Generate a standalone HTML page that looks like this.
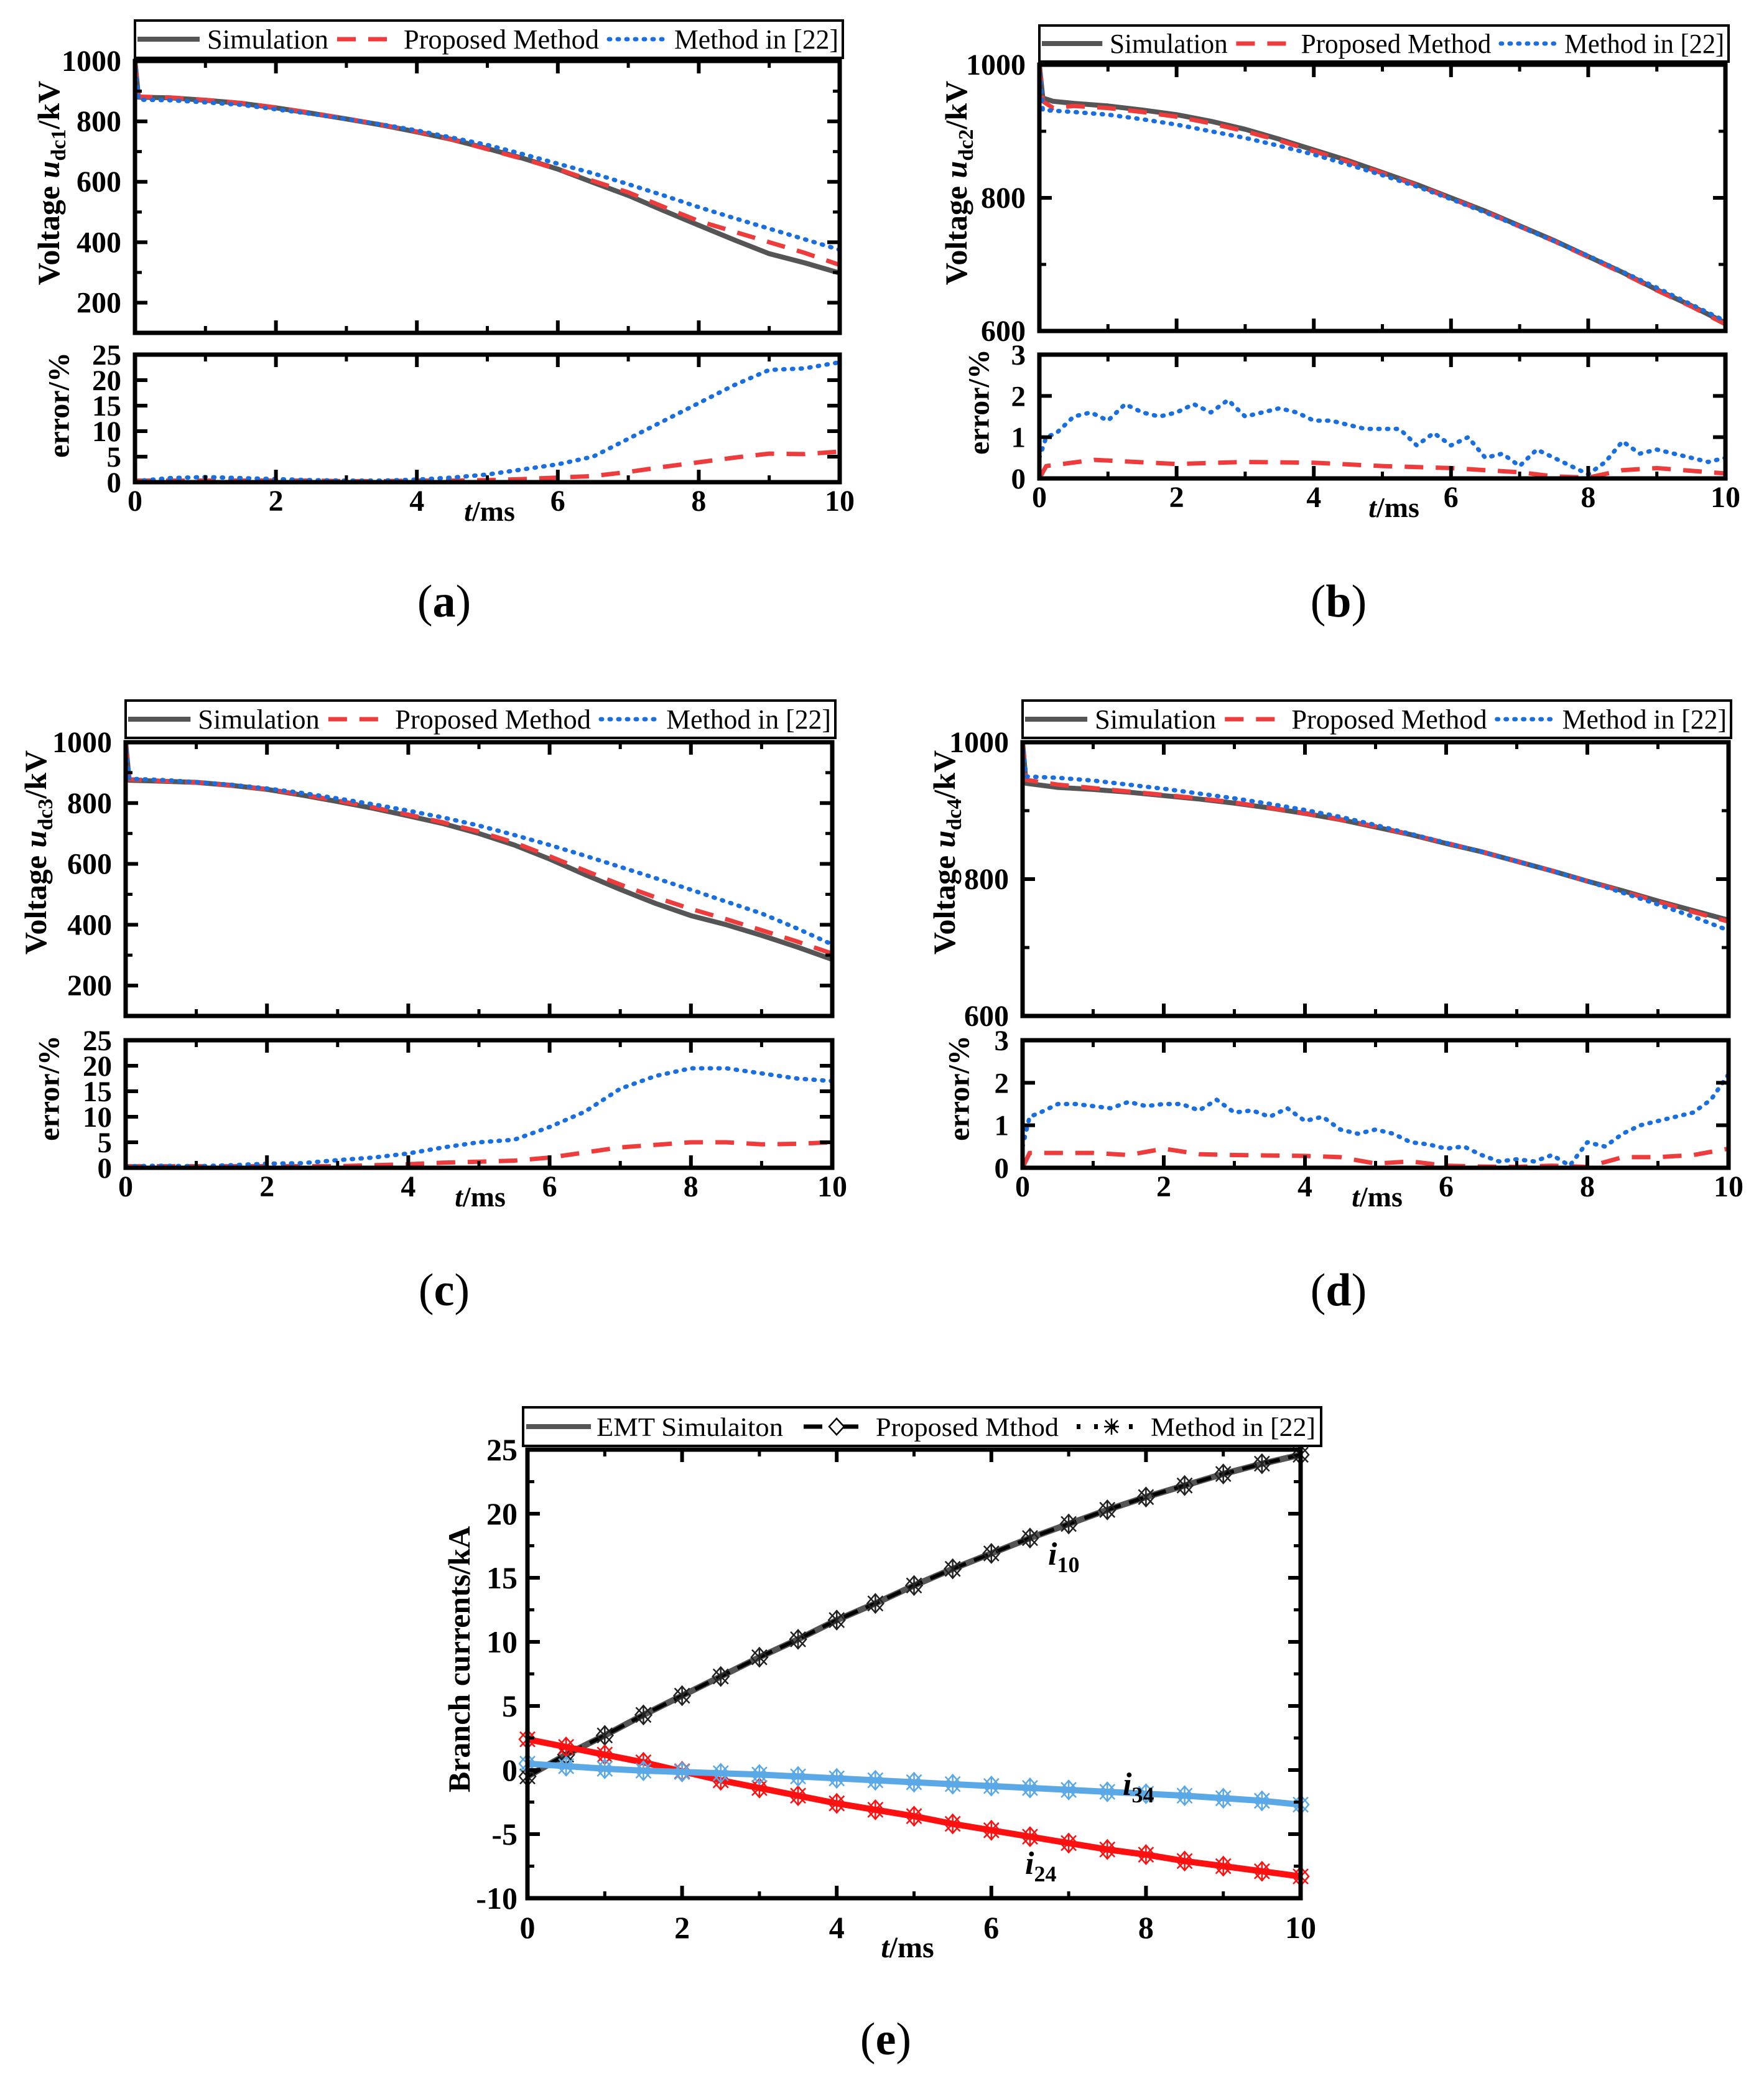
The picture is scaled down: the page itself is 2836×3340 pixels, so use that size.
<!DOCTYPE html>
<html><head><meta charset="utf-8"><style>
html,body{margin:0;padding:0;background:#fff;}
svg{display:block;}
text{font-family:"Liberation Serif",serif;}
</style></head><body>
<svg id="fig" xmlns="http://www.w3.org/2000/svg" width="2836" height="3340" viewBox="0 0 2836 3340"></svg>
<script>
// ---------- DATA ----------
const tA = [0,0.05,0.5,1,1.5,2,2.5,3,3.5,4,4.5,5,5.5,6,6.5,7,7.5,8,8.5,9,9.5,10];
const tE = [0,0.5,1,1.5,2,2.5,3,3.5,4,4.5,5,5.5,6,6.5,7,7.5,8,8.5,9,9.5,10];
const tB = [0,0.05,0.2,0.5,1,1.5,2,2.5,3,3.5,4,4.5,5,5.5,6,6.5,7,7.5,8,8.5,9,9.5,10];
const tQ = [0,0.1,0.25,0.5,0.75,1,1.25,1.5,1.75,2,2.25,2.5,2.75,3,3.25,3.5,3.75,4,4.25,4.5,4.75,5,5.25,5.5,5.75,6,6.25,6.5,6.75,7,7.25,7.5,7.75,8,8.25,8.5,8.75,9,9.25,9.5,9.75,10];
const tBr = [0,0.1,0.8,2,3,4,5,6,7,7.5,8,8.5,9,10];
const tDr = [0,0.1,1,1.5,2,2.5,3,4,4.5,5,5.5,6,6.5,7,7.5,8,8.5,9,9.5,10];
const xTicks = [0,2,4,6,8,10];
const xMinor = [1,3,5,7,9];

const aSim = [1000,880,878,870,860,845,827,808,788,765,740,710,678,642,598,555,505,456,408,362,332,298];
const aProp = [1000,882,879,871,861,846,828,809,789,766,740,708,676,642,603,565,517,470,435,400,365,325];
const aM22 = [1000,872,870,863,855,840,825,808,790,770,746,722,692,660,628,592,555,516,480,445,410,375];
const aErrP = [0.3,0.3,0.3,0.3,0.3,0.3,0.2,0.2,0.3,0.3,0.4,0.6,0.9,1.2,2.0,3.0,3.9,4.8,5.6,5.5,6.0];
const aErrM = [0.2,0.8,1.0,0.8,0.6,0.4,0.3,0.3,0.5,0.9,1.5,2.5,3.5,5.0,8.5,12,15.5,19,22,22.3,23.5];

const bSim = [1000,950,945,942,938,932,925,915,903,888,872,856,838,820,800,780,758,736,712,688,662,638,612];
const bProp = [1000,945,935,938,935,929,922,912,900,886,870,854,837,819,799,779,757,735,711,687,661,637,610];
const bM22 = [1000,932,931,929,925,918,910,900,890,878,865,850,834,817,798,778,757,735,713,689,665,640,615];
const bErrP = [0,0.3,0.45,0.35,0.4,0.38,0.3,0.25,0.15,0.05,0.02,0.2,0.25,0.12];
const bErrM = [0.5,1.0,1.1,1.5,1.6,1.4,1.8,1.6,1.5,1.6,1.8,1.6,1.9,1.5,1.6,1.7,1.6,1.4,1.4,1.3,1.2,1.2,1.2,0.8,1.1,0.8,1.0,0.5,0.6,0.3,0.7,0.5,0.3,0.1,0.4,0.9,0.6,0.7,0.6,0.5,0.4,0.5];

const cSim = [1000,875,872,868,858,845,826,805,783,758,732,700,662,616,565,516,470,430,400,365,327,286];
const cProp = [1000,878,873,868,858,846,828,808,786,762,736,706,670,625,578,532,490,452,418,382,345,305];
const cM22 = [1000,880,876,869,860,848,833,815,796,775,752,726,695,662,627,590,553,515,476,437,388,335];
const cErrP = [0.3,0.3,0.3,0.3,0.3,0.3,0.3,0.5,0.7,1.0,1.2,1.4,2.0,3.0,4.0,4.5,5.0,5.0,4.6,4.7,5.0];
const cErrM = [0.3,0.4,0.3,0.5,0.8,0.9,1.5,2.0,2.8,4.0,5.0,5.5,8.0,11,15.5,18,19.5,19.5,18.5,17.5,17];

const dSim = [1000,940,934,931,927,922,917,911,904,896,887,876,865,852,840,826,812,797,783,768,754,740];
const dProp = [1000,945,938,933,928,923,918,912,904,896,887,877,865,853,840,826,812,797,782,767,752,738];
const dM22 = [1000,950,948,944,938,932,925,918,910,901,891,879,866,853,840,826,812,797,780,763,745,725];
const dErrP = [0,0.35,0.35,0.3,0.45,0.32,0.3,0.28,0.25,0.1,0.15,0.05,0.03,0.02,0.05,0.02,0.25,0.25,0.3,0.45];
const dErrM = [0.5,1.2,1.3,1.5,1.5,1.45,1.4,1.55,1.45,1.5,1.5,1.35,1.6,1.3,1.35,1.2,1.4,1.1,1.2,0.9,0.8,0.9,0.8,0.6,0.55,0.45,0.5,0.3,0.15,0.2,0.15,0.3,0.05,0.6,0.5,0.8,1.0,1.1,1.2,1.3,1.6,2.2];

const i10 = [-0.5,1.2,2.7,4.3,5.8,7.3,8.8,10.2,11.7,13.0,14.4,15.7,16.9,18.1,19.2,20.3,21.3,22.2,23.1,23.9,24.6];
const i24 = [2.4,1.8,1.2,0.6,-0.1,-0.8,-1.4,-2.0,-2.6,-3.1,-3.6,-4.2,-4.7,-5.2,-5.7,-6.2,-6.6,-7.1,-7.5,-7.9,-8.3];
const i34 = [0.5,0.3,0.1,-0.05,-0.15,-0.25,-0.35,-0.5,-0.65,-0.8,-0.95,-1.1,-1.25,-1.4,-1.55,-1.7,-1.85,-2.0,-2.2,-2.4,-2.7];
const eYTicks = [-10,-5,0,5,10,15,20,25];

// ---------- HELPERS ----------
const NS = 'http://www.w3.org/2000/svg';
const svg = document.getElementById('fig');
function mk(tag, attrs, parent){ const e=document.createElementNS(NS,tag); for(const k in attrs) e.setAttribute(k,attrs[k]); (parent||svg).appendChild(e); return e; }
function lin(d0,d1,r0,r1){ return v => r0 + (v-d0)/(d1-d0)*(r1-r0); }
function pathD(xs, ys, sx, sy){ return xs.map((t,i)=>(i?'L':'M')+sx(t).toFixed(1)+','+sy(ys[i]).toFixed(1)).join(''); }

const SIMC='#555555', REDC='#ee3b3b', BLUEC='#1a6fe0';
function series(g, xs, ys, sx, sy, kind, name){
  let a = {fill:'none','stroke-linejoin':'round'};
  if(kind==='sim'){ a.stroke=SIMC; a['stroke-width']=8; }
  else if(kind==='prop'){ a.stroke=REDC; a['stroke-width']=7; a['stroke-dasharray']='30 20'; }
  else { a.stroke=BLUEC; a['stroke-width']=7; a['stroke-dasharray']='2 12'; a['stroke-linecap']='round'; }
  a.d = pathD(xs, ys, sx, sy);
  const p = mk('path', a, g);
  
  
}

function frame(g, x0, y0, x1, y1, yT, yM, sy, xs, name){
  const fr = mk('rect',{x:x0,y:y0,width:x1-x0,height:y1-y0,fill:'none',stroke:'#000','stroke-width':7},g);
  
  
  xTicks.forEach(v=>{ mk('line',{x1:xs(v),x2:xs(v),y1:y1,y2:y1-20,stroke:'#000','stroke-width':6},g); mk('line',{x1:xs(v),x2:xs(v),y1:y0,y2:y0+20,stroke:'#000','stroke-width':6},g); });
  xMinor.forEach(v=>{ mk('line',{x1:xs(v),x2:xs(v),y1:y1,y2:y1-11,stroke:'#000','stroke-width':5},g); mk('line',{x1:xs(v),x2:xs(v),y1:y0,y2:y0+11,stroke:'#000','stroke-width':5},g); });
  yT.forEach(v=>{ mk('line',{x1:x0,x2:x0+20,y1:sy(v),y2:sy(v),stroke:'#000','stroke-width':6},g); mk('line',{x1:x1,x2:x1-20,y1:sy(v),y2:sy(v),stroke:'#000','stroke-width':6},g); });
  yM.forEach(v=>{ mk('line',{x1:x0,x2:x0+11,y1:sy(v),y2:sy(v),stroke:'#000','stroke-width':5},g); mk('line',{x1:x1,x2:x1-11,y1:sy(v),y2:sy(v),stroke:'#000','stroke-width':5},g); });
}

function legend(g, L, T, R, B, id){
  const box = mk('rect',{x:L,y:T,width:R-L,height:B-T,fill:'#fff',stroke:'#000','stroke-width':4},g);
  
  
  const W = R-L, s = W/1138, cy=(T+B)/2, by=cy+15;
  mk('line',{x1:L+4,x2:L+104*s,y1:cy,y2:cy,stroke:SIMC,'stroke-width':8},g);
  const t1 = mk('text',{x:L+116*s,y:by,'font-size':44,textLength:195*s,lengthAdjust:'spacingAndGlyphs'},g); t1.textContent='Simulation';
  
  
  mk('line',{x1:L+325*s,x2:L+420*s,y1:cy,y2:cy,stroke:REDC,'stroke-width':7,'stroke-dasharray':'30 20'},g);
  const t2 = mk('text',{x:L+432*s,y:by,'font-size':44,textLength:314*s,lengthAdjust:'spacingAndGlyphs'},g); t2.textContent='Proposed Method';
  
  
  mk('line',{x1:L+762*s,x2:L+850*s,y1:cy,y2:cy,stroke:BLUEC,'stroke-width':7,'stroke-dasharray':'2 12','stroke-linecap':'round'},g);
  const t3 = mk('text',{x:L+867*s,y:by,'font-size':44,textLength:264*s,lengthAdjust:'spacingAndGlyphs'},g); t3.textContent='Method in [22]';
  
  
}

function ylabel(g, cx, cy, parts, size, name){
  const t = mk('text',{x:0,y:0,transform:`translate(${cx+size*0.36},${cy}) rotate(-90)`,'text-anchor':'middle','font-size':size,'font-weight':'bold'},g);
  
  
  parts.forEach(p=>{ const sp=mk('tspan',p.a||{},t); sp.textContent=p.s; });
}

function panel(cfg){
  const g = mk('g',{});
  
  
  const xs = lin(0,10,cfg.x0,cfg.x1);
  const sy = lin(cfg.ymin,cfg.ymax,cfg.t1,cfg.t0);
  const se = lin(0,cfg.emax,cfg.e1,cfg.e0);
  const clipId='clip'+cfg.id;
  const cp = mk('clipPath',{id:clipId},g); mk('rect',{x:cfg.x0,y:cfg.t0-5,width:cfg.x1-cfg.x0+4,height:cfg.t1-cfg.t0+5},cp);
  const gs = mk('g',{'clip-path':`url(#${clipId})`},g);
  series(gs, cfg.tt, cfg.sim, xs, sy, 'sim', 'simulation-line-'+cfg.id);
  series(gs, cfg.tt, cfg.prop, xs, sy, 'prop', 'proposed-line-'+cfg.id);
  series(gs, cfg.tt, cfg.m22, xs, sy, 'm22', 'method22-line-'+cfg.id);
  frame(g, cfg.x0, cfg.t0, cfg.x1, cfg.t1, cfg.yTicks, cfg.yMinor, sy, xs, 'voltage-plot-frame-'+cfg.id);
  cfg.yTicks.forEach(v=>{ const t=mk('text',{x:cfg.x0-22,y:sy(v)+16,'text-anchor':'end','font-size':48,'font-weight':'bold'},g); t.textContent=v;
    
     });
  const clipE='clipe'+cfg.id;
  const cpe = mk('clipPath',{id:clipE},g); mk('rect',{x:cfg.x0,y:cfg.e0,width:cfg.x1-cfg.x0+6,height:cfg.e1-cfg.e0},cpe);
  const ge = mk('g',{'clip-path':`url(#${clipE})`},g);
  series(ge, cfg.tep, cfg.errP, xs, se, 'prop', 'error-proposed-'+cfg.id);
  series(ge, cfg.tem, cfg.errM, xs, se, 'm22', 'error-method22-'+cfg.id);
  frame(g, cfg.x0, cfg.e0, cfg.x1, cfg.e1, cfg.eTicks, [], se, xs, 'error-plot-frame-'+cfg.id);
  cfg.eTicks.forEach(v=>{ const t=mk('text',{x:cfg.x0-22,y:se(v)+16,'text-anchor':'end','font-size':47,'font-weight':'bold'},g); t.textContent=v;
    
     });
  xTicks.forEach(v=>{ const t=mk('text',{x:xs(v),y:cfg.e1+46,'text-anchor':'middle','font-size':48,'font-weight':'bold'},g); t.textContent=v;
    
     });
  const tm = mk('text',{x:cfg.x0+570,y:cfg.e1+62,'text-anchor':'middle','font-size':46,'font-weight':'bold'},g);
  
  
  const ti=mk('tspan',{'font-style':'italic'},tm); ti.textContent='t'; const tr=mk('tspan',{},tm); tr.textContent='/ms';
  legend(g, cfg.leg[0], cfg.leg[1], cfg.leg[2], cfg.leg[3], cfg.id);
  ylabel(g, cfg.yl[0], cfg.yl[1], [{s:'Voltage '},{s:'u',a:{'font-style':'italic'}},{s:cfg.sub,a:{'font-size':34,dy:10}},{s:'/kV',a:{dy:-10}}], 50, 'y-axis-title-'+cfg.id);
  ylabel(g, cfg.el[0], cfg.el[1], [{s:'error/%'}], 48, 'error-axis-title-'+cfg.id);
  const pl = mk('text',{x:cfg.pl[0],y:cfg.pl[1]+6,'text-anchor':'middle','font-size':74,'font-family':'"DejaVu Serif",serif'},g);
  
  
  const p1=mk('tspan',{},pl); p1.textContent='(';
  const p2=mk('tspan',{'font-weight':'bold'},pl); p2.textContent=cfg.id;
  const p3=mk('tspan',{},pl); p3.textContent=')';
}

panel({id:'a',x0:217,x1:1350,t0:98,t1:535,ymin:100,ymax:1000,yTicks:[200,400,600,800,1000],yMinor:[100,300,500,700,900],
  e0:570,e1:775,emax:25,eTicks:[0,5,10,15,20,25],tt:tA,sim:aSim,prop:aProp,m22:aM22,tep:tE,errP:aErrP,tem:tE,errM:aErrM,
  leg:[217,33,1355,93],sub:'dc1',yl:[77,294],el:[93,651],pl:[714,985]});
panel({id:'b',x0:1671,x1:2774,t0:104,t1:532,ymin:600,ymax:1000,yTicks:[600,800,1000],yMinor:[700,900],
  e0:570,e1:769,emax:3,eTicks:[0,1,2,3],tt:tB,sim:bSim,prop:bProp,m22:bM22,tep:tBr,errP:bErrP,tem:tQ,errM:bErrM,
  leg:[1671,41,2779,99],sub:'dc2',yl:[1536,294],el:[1572,646],pl:[2152,985]});
panel({id:'c',x0:202,x1:1338,t0:1193,t1:1633,ymin:100,ymax:1000,yTicks:[200,400,600,800,1000],yMinor:[100,300,500,700,900],
  e0:1672,e1:1877,emax:25,eTicks:[0,5,10,15,20,25],tt:tA,sim:cSim,prop:cProp,m22:cM22,tep:tE,errP:cErrP,tem:tE,errM:cErrM,
  leg:[202,1126,1343,1186],sub:'dc3',yl:[56,1370],el:[77,1749],pl:[714,2092]});
panel({id:'d',x0:1644,x1:2779,t0:1193,t1:1633,ymin:600,ymax:1000,yTicks:[600,800,1000],yMinor:[700,900],
  e0:1672,e1:1877,emax:3,eTicks:[0,1,2,3],tt:tA,sim:dSim,prop:dProp,m22:dM22,tep:tDr,errP:dErrP,tem:tQ,errM:dErrM,
  leg:[1644,1126,2783,1186],sub:'dc4',yl:[1517,1370],el:[1540,1749],pl:[2152,2092]});

// ---------- PANEL E ----------
(function(){
  const g = mk('g',{});
  
  
  const X0=848,X1=2091,Y0=2330,Y1=3051;
  const xs = lin(0,10,X0,X1), sy = lin(-10,25,Y1,Y0);
  function marker(cx,cy,col){
    mk('path',{d:`M${cx},${cy-15}L${cx+13},${cy}L${cx},${cy+15}L${cx-13},${cy}Z`,fill:'none',stroke:col,'stroke-width':2.5},g);
    mk('path',{d:`M${cx-12},${cy-12}L${cx+12},${cy+12}M${cx+12},${cy-12}L${cx-12},${cy+12}M${cx},${cy-15}L${cx},${cy+15}`,stroke:col,'stroke-width':2.5},g);
  }
  const defs=[[i10,'#555555','#000','i10'],[i24,'#ff1010','#ff1010','i24'],[i34,'#5aa9e6','#5aa9e6','i34']];
  defs.forEach(([arr,c1,c2,nm])=>{
    const p = mk('path',{d:pathD(tE,arr,xs,sy),fill:'none',stroke:c1,'stroke-width':10},g);
    
    
    const q = mk('path',{d:pathD(tE,arr,xs,sy),fill:'none',stroke:c2,'stroke-width':6,'stroke-dasharray':'24 14'},g);
    
    
    tE.forEach((t,i)=>marker(xs(t),sy(arr[i]),nm==='i10'?'#222':c2));
  });
  frame(g,X0,Y0,X1,Y1,eYTicks,[-7.5,-2.5,2.5,7.5,12.5,17.5,22.5],sy,xs,'current-plot-frame');
  eYTicks.forEach(v=>{ const t=mk('text',{x:X0-16,y:sy(v)+17,'text-anchor':'end','font-size':50,'font-weight':'bold'},g); t.textContent=v;
    
     });
  xTicks.forEach(v=>{ const t=mk('text',{x:xs(v),y:Y1+64,'text-anchor':'middle','font-size':50,'font-weight':'bold'},g); t.textContent=v;
    
     });
  const tm = mk('text',{x:1459,y:3146,'text-anchor':'middle','font-size':48,'font-weight':'bold'},g);
  
  
  const a1=mk('tspan',{'font-style':'italic'},tm); a1.textContent='t'; const a2=mk('tspan',{},tm); a2.textContent='/ms';
  ylabel(g, 737, 2667, [{s:'Branch currents/kA'}], 50, 'y-axis-title-e');
  [['i','10',1685,2515,'label-i10'],['i','34',1805,2885,'label-i34'],['i','24',1648,3012,'label-i24']].forEach(([a,b,x,y,n])=>{
    const t=mk('text',{x:x,y:y,'font-size':52,'font-weight':'bold'},g);
    
    
    const s1=mk('tspan',{'font-style':'italic'},t); s1.textContent=a;
    const s2=mk('tspan',{'font-size':36,dy:12},t); s2.textContent=b;
  });
  const lb = mk('rect',{x:841,y:2262,width:1283,height:62,fill:'#fff',stroke:'#000','stroke-width':4},g);
  
  
  const cy=2293, by=2308;
  mk('line',{x1:846,x2:950,y1:cy,y2:cy,stroke:'#555','stroke-width':8},g);
  const l1=mk('text',{x:959,y:by,'font-size':42,textLength:300,lengthAdjust:'spacingAndGlyphs'},g); l1.textContent='EMT Simulaiton';
  
  
  mk('line',{x1:1292,x2:1398,y1:cy,y2:cy,stroke:'#000','stroke-width':7,'stroke-dasharray':'30 28'},g);
  mk('path',{d:`M1345,${cy-13}L1357,${cy}L1345,${cy+13}L1333,${cy}Z`,fill:'#fff',stroke:'#000','stroke-width':2.5},g);
  const l2=mk('text',{x:1408,y:by,'font-size':42,textLength:294,lengthAdjust:'spacingAndGlyphs'},g); l2.textContent='Proposed Mthod';
  
  
  mk('line',{x1:1731,x2:1824,y1:cy,y2:cy,stroke:'#000','stroke-width':8,'stroke-dasharray':'6 22'},g);
  mk('path',{d:`M1777,${cy-10}L1797,${cy+10}M1797,${cy-10}L1777,${cy+10}M1787,${cy-13}L1787,${cy+13}M1775,${cy}L1799,${cy}`,stroke:'#000','stroke-width':2.5},g);
  const l3=mk('text',{x:1850,y:by,'font-size':42,textLength:265,lengthAdjust:'spacingAndGlyphs'},g); l3.textContent='Method in [22]';
  
  
  const pl = mk('text',{x:1424,y:3302,'text-anchor':'middle','font-size':74,'font-family':'"DejaVu Serif",serif'},g);
  
  
  const q1=mk('tspan',{},pl); q1.textContent='(';
  const q2=mk('tspan',{'font-weight':'bold'},pl); q2.textContent='e';
  const q3=mk('tspan',{},pl); q3.textContent=')';
})();
</script>
</body></html>
